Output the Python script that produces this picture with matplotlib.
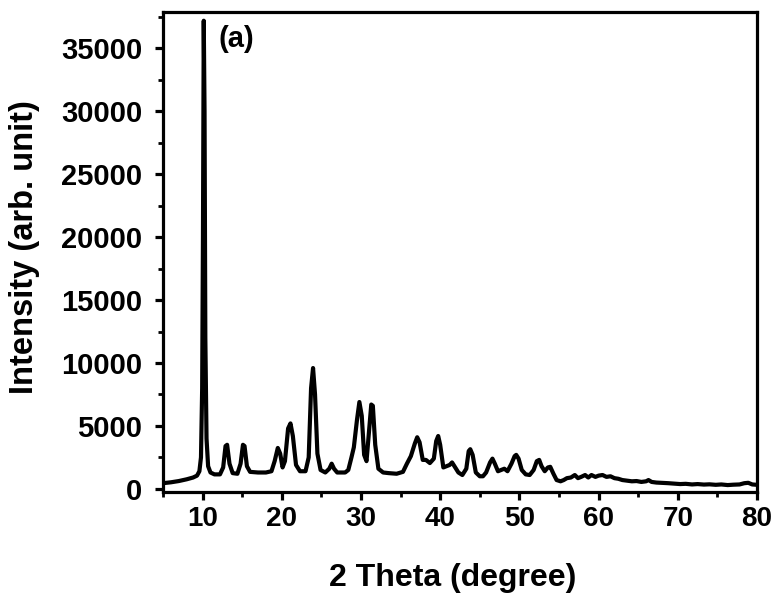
import matplotlib
matplotlib.use('Agg')
import matplotlib.pyplot as plt
from matplotlib.ticker import MultipleLocator

# XRD pattern (2 theta in degree, intensity in arb. unit)
two_theta = [
    5.0, 6.0, 7.0, 8.0, 8.8, 9.3, 9.6, 9.8, 9.95, 10.05, 10.15, 10.25, 10.35, 10.5, 10.7,
    11.0, 11.5, 12.2, 12.6, 12.9, 13.1, 13.4, 13.8, 14.4, 14.8, 15.1, 15.3, 15.6, 16.0,
    17.0, 18.0, 18.7, 19.1, 19.5, 19.8, 20.1, 20.4, 20.8, 21.1, 21.4, 21.8, 22.3, 23.0,
    23.4, 23.7, 23.95, 24.2, 24.5, 24.9, 25.5, 26.0, 26.3, 26.6, 27.0, 28.0, 28.4, 28.8,
    29.1, 29.5, 29.8, 30.1, 30.4, 30.7, 31.0, 31.3, 31.5, 31.8, 32.2, 32.8, 33.5, 34.5,
    35.3, 35.8, 36.3, 36.8, 37.1, 37.4, 37.8, 38.2, 38.7, 39.2, 39.5, 39.75, 40.0, 40.4,
    40.8, 41.2, 41.5, 41.9, 42.3, 42.8, 43.3, 43.6, 43.8, 44.1, 44.5, 45.0, 45.4, 45.8,
    46.3, 46.6, 46.9, 47.3, 47.7, 48.1, 48.5, 49.0, 49.4, 49.6, 49.9, 50.3, 50.8, 51.3,
    51.8, 52.2, 52.5, 52.8, 53.2, 53.6, 53.9, 54.3, 54.7, 55.2, 55.6, 56.0, 56.5, 57.0,
    57.4, 57.8, 58.3, 58.7, 59.1, 59.6, 60.0, 60.5, 61.0, 61.5, 62.0, 62.5, 63.0, 63.6,
    64.2, 64.8, 65.4, 66.0, 66.3, 66.7, 67.3, 68.0, 68.8, 69.5, 70.3, 71.0, 71.8, 72.5,
    73.3, 74.0, 74.8, 75.5, 76.3, 77.0, 77.8, 78.4, 78.9, 79.4, 80.0,
]
intensity = [
    450, 520, 620, 760, 900, 1050, 1400, 2500, 8000, 20000, 37200, 30000, 12000, 4000, 1800,
    1300, 1150, 1150, 1700, 3400, 3500, 2000, 1250, 1200, 2000, 3500, 3400, 1800, 1350,
    1300, 1300, 1400, 2200, 3250, 2800, 1700, 2200, 4800, 5200, 4200, 1900, 1400, 1400,
    2500, 8000, 9600, 7500, 2800, 1500, 1300, 1600, 2000, 1600, 1300, 1300, 1500, 2500,
    3300, 5500, 6900, 5800, 2700, 2200, 4500, 6700, 6600, 3500, 1600, 1300, 1250, 1200,
    1350, 2000, 2600, 3600, 4100, 3700, 2300, 2300, 2050, 2400, 3800, 4200, 3500, 1700,
    1800, 1900, 2100, 1700, 1300, 1100, 1600, 3000, 3150, 2700, 1300, 1000, 1000, 1300,
    2100, 2400, 2000, 1400, 1500, 1600, 1400, 2000, 2600, 2700, 2400, 1500, 1150, 1100,
    1500, 2200, 2300, 1800, 1400, 1700, 1750, 1200, 700, 600, 700, 850, 900, 1100,
    850, 950, 1100, 900, 1100, 950, 1050, 1100, 950, 1000, 850, 800, 700, 650,
    600, 620, 550, 600, 700, 550, 500, 480, 450, 420, 380, 400, 350, 380,
    340, 360, 320, 350, 300, 330, 350, 450, 480, 350, 320,
]

plt.rcParams['font.family'] = ['Liberation Sans', 'DejaVu Sans']
plt.rcParams['font.weight'] = 'bold'

fig = plt.figure(figsize=(7.76, 5.96), dpi=100)
ax = fig.add_axes([0.210, 0.1745, 0.7655, 0.8055])

ax.plot(two_theta, intensity, color='black', linewidth=3.0, solid_joinstyle='round')

ax.set_xlim(5, 80)
ax.set_ylim(-250, 37900)
ax.xaxis.set_major_locator(MultipleLocator(10))
ax.xaxis.set_minor_locator(MultipleLocator(5))
ax.yaxis.set_major_locator(MultipleLocator(5000))
ax.yaxis.set_minor_locator(MultipleLocator(2500))

for spine in ax.spines.values():
    spine.set_linewidth(2.3)
ax.tick_params(which='major', direction='out', length=6, width=2.3)
ax.tick_params(axis='x', which='major', pad=4, labelsize=20)
ax.tick_params(axis='y', which='major', pad=9, labelsize=21)
ax.tick_params(which='minor', direction='out', length=3.5, width=2.0)
ax.tick_params(top=False, right=False)
for lbl in ax.get_xticklabels() + ax.get_yticklabels():
    lbl.set_fontweight('bold')

ax.set_xlabel('2 Theta (degree)', fontsize=23, fontweight='bold')
ax.set_ylabel('Intensity (arb. unit)', fontsize=23.5, fontweight='bold')
ax.xaxis.set_label_coords(0.487, -0.148)
ax.yaxis.set_label_coords(-0.207, 0.51)

ax.text(0.093, 0.972, '(a)', transform=ax.transAxes, fontsize=21, fontweight='bold',
        va='top', ha='left')

fig.savefig('out.png', dpi=100, facecolor='white')
